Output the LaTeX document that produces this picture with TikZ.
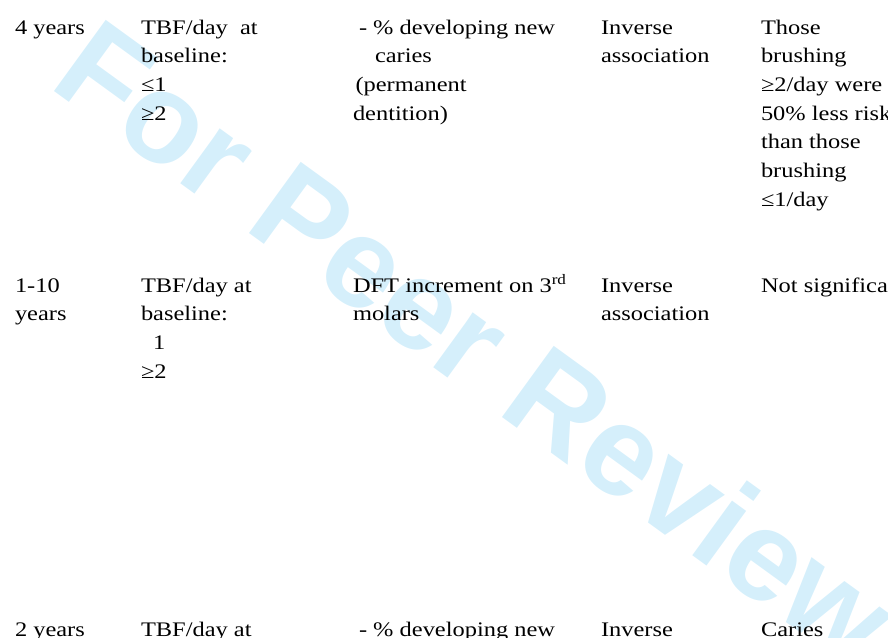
\documentclass[tikz,border=0pt]{standalone}
\usepackage{fontspec}
\setmainfont{Liberation Serif}
\newfontfamily\wmfont{Liberation Sans}
\definecolor{wmblue}{RGB}{213,239,251}
\begin{document}
\begin{tikzpicture}[x=1pt,y=-1pt,
  txt/.style={anchor=base west, inner sep=0pt, outer sep=0pt,
    font=\fontsize{20.7}{24}\selectfont, xscale=1.18},
  wm/.style={anchor=base west, inner sep=0pt, rotate=-36, text=wmblue,
    font=\wmfont\bfseries\fontsize{128}{130}\selectfont}]
\useasboundingbox (0,0) rectangle (888,637);
\clip (0,0) rectangle (888,637);
\node[wm] (water) at (47,86) {For Peer Review};
% row 1
\node[txt] (a1) at (15,34) {4 years};
\node[txt] (b1a) at (141,34) {TBF/day\ \ at};
\node[txt] (b1b) at (141,62.7) {baseline:};
\node[txt] (b1c) at (141,91.4) {≤1};
\node[txt] (b1d) at (141,120.1) {≥2};
\node[txt] (c1a) at (359,34) {- \% developing new};
\node[txt] (c1b) at (375,62.7) {caries};
\node[txt] (c1c) at (355.5,91.4) {(permanent};
\node[txt] (c1d) at (353,120.1) {dentition)};
\node[txt] (d1a) at (601,34) {Inverse};
\node[txt] (d1b) at (601,62.7) {association};
\node[txt] (e1a) at (761,34) {Those};
\node[txt] (e1b) at (761,62.7) {brushing};
\node[txt] (e1c) at (761,91.4) {≥2/day were};
\node[txt] (e1d) at (761,120.1) {50\% less risk};
\node[txt] (e1e) at (761,148.8) {than those};
\node[txt] (e1f) at (761,177.5) {brushing};
\node[txt] (e1g) at (761,206.2) {≤1/day};
% row 2
\node[txt] (a2a) at (15,292) {1-10};
\node[txt] (a2b) at (15,320.7) {years};
\node[txt] (b2a) at (141,292) {TBF/day at};
\node[txt] (b2b) at (141,320.7) {baseline:};
\node[txt] (b2c) at (153,349.4) {1};
\node[txt] (b2d) at (141,378.1) {≥2};
\node[txt] (c2a) at (353,292) {DFT increment on 3\textsuperscript{rd}};
\node[txt] (c2b) at (353,320.7) {molars};
\node[txt] (d2a) at (601,292) {Inverse};
\node[txt] (d2b) at (601,320.7) {association};
\node[txt] (e2a) at (761,292) {Not significant};
% row 3
\node[txt] (a3) at (15,636.4) {2 years};
\node[txt] (b3) at (141,636.4) {TBF/day at};
\node[txt] (c3) at (359,636.4) {- \% developing new};
\node[txt] (d3) at (601,636.4) {Inverse};
\node[txt] (e3) at (761,636.4) {Caries};
\end{tikzpicture}
\end{document}
